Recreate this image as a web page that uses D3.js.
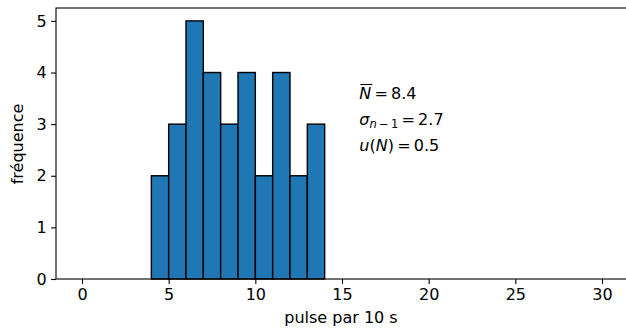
<!DOCTYPE html>
<html><head><meta charset="utf-8">
<script src="https://cdn.jsdelivr.net/npm/d3@7"></script>
<style>
body{margin:0;background:#fff;}
svg text{font-family:"DejaVu Sans",sans-serif;}
</style></head>
<body><svg id="c" width="626" height="329"></svg>
<script>
const binEdges = d3.range(0, 31, 1);
const counts = [0,0,0,0,2,3,5,4,3,4,2,4,2,3,0,0,0,0,0,0,0,0,0,0,0,0,0,0,0,0];
const xTicks = [0,5,10,15,20,25,30];
const yTicks = [0,1,2,3,4,5];
const xLabel = "pulse par 10 s";
const yLabel = "fréquence";

const svg = d3.select("#c");
const L = 56, R = 628, T = 8, B = 279;
const x = d3.scaleLinear().domain([-1.5, 31.5]).range([L, R]);
const y = d3.scaleLinear().domain([0, 5.25]).range([B, T]);
const fs = 16, lfs = 16;

// bars
svg.append("g").selectAll("rect").data(counts).join("rect")
  .attr("x", (d,i)=>x(binEdges[i]))
  .attr("width", (d,i)=>x(binEdges[i+1])-x(binEdges[i]))
  .attr("y", d=>y(d))
  .attr("height", d=>y(0)-y(d))
  .attr("fill", "#1f77b4")
  .attr("stroke", "#000")
  .attr("stroke-width", 1.4);

// axes
const xa = svg.append("g").attr("transform", `translate(0,${B})`)
  .call(d3.axisBottom(x).tickValues(xTicks).tickSize(4.9).tickPadding(4.5).tickFormat(d3.format("d")));
const ya = svg.append("g").attr("transform", `translate(${L},0)`)
  .call(d3.axisLeft(y).tickValues(yTicks).tickSize(4.9).tickPadding(4.5).tickFormat(d3.format("d")));
[xa, ya].forEach(a=>{
  a.select(".domain").remove();
  a.selectAll("line").attr("stroke","#000").attr("stroke-width",1.1);
  a.selectAll("text").attr("font-size", fs).attr("fill","#000").attr("font-family","DejaVu Sans");
});
// spines
svg.append("rect").attr("x", L).attr("y", T).attr("width", R-L).attr("height", B-T)
  .attr("fill","none").attr("stroke","#000").attr("stroke-width",1.1);

// labels
svg.append("text").attr("x", 341).attr("y", 323)
  .attr("text-anchor","middle").attr("font-size", lfs).text(xLabel);
svg.append("text").attr("transform", `translate(23,${144}) rotate(-90)`)
  .attr("text-anchor","middle").attr("font-size", lfs).text(yLabel);

// annotation
const ax = x(16), fsz = 16;
const t1 = svg.append("text").attr("x", ax).attr("y", 99).attr("font-size", fsz);
t1.append("tspan").attr("font-style","italic").text("N");
t1.append("tspan").text("\u2009=\u20098.4");
svg.append("line").attr("x1", ax+1).attr("x2", ax+13).attr("y1", 84.5).attr("y2", 84.5).attr("stroke","#000").attr("stroke-width",1.1);
const t2 = svg.append("text").attr("x", ax).attr("y", 125).attr("font-size", fsz);
t2.append("tspan").attr("font-style","italic").text("σ");
t2.append("tspan").attr("font-size", 11.5).attr("dy", 3).attr("font-style","italic").text("n");
t2.append("tspan").attr("font-size", 11.5).text("\u2009−\u20091");
t2.append("tspan").attr("dy", -3).text("\u2009=\u20092.7");
const t3 = svg.append("text").attr("x", ax).attr("y", 151).attr("font-size", fsz);
t3.append("tspan").attr("font-style","italic").text("u");
t3.append("tspan").text("(");
t3.append("tspan").attr("font-style","italic").text("N");
t3.append("tspan").text(")\u2009=\u20090.5");
</script></body></html>
